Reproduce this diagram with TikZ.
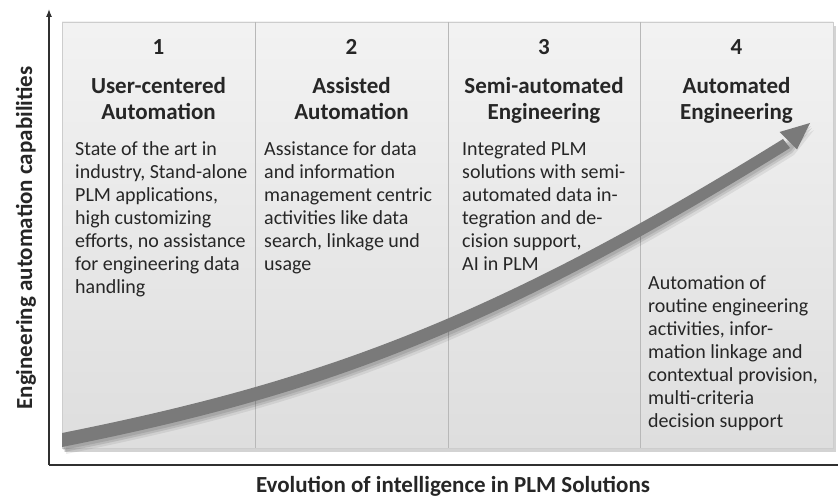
\documentclass[tikz,border=0pt]{standalone}
\usepackage{fontspec}
\setmainfont{Carlito}
\usetikzlibrary{shadows,arrows.meta}
\definecolor{txt}{HTML}{262626}
\definecolor{curvegray}{HTML}{7A7A7A}
\definecolor{divgray}{HTML}{B8B8B8}
\definecolor{axisgray}{HTML}{303030}
\begin{document}
\begin{tikzpicture}[x=1pt,y=-1pt,
  numlbl/.style={font=\bfseries\fontsize{23}{26}\selectfont, text=txt, anchor=base, inner sep=0},
  ttl/.style={font=\bfseries\fontsize{23}{26}\selectfont, text=txt, anchor=north, align=center, inner sep=0},
  body/.style={font=\fontsize{20}{23}\selectfont, text=txt, anchor=north west, align=left, inner sep=0},
  axislbl/.style={font=\bfseries\fontsize{23}{26}\selectfont, text=txt, anchor=base, inner sep=0},
  axisline/.style={draw=axisgray, line width=1.2pt}
]
\useasboundingbox (0,0) rectangle (840,497);
% panel
\path[draw=divgray!70, line width=0.8pt, top color=gray!10, bottom color=gray!26,
  drop shadow={shadow xshift=3pt, shadow yshift=-4pt, opacity=0.35, fill=gray}]
  (62,22) rectangle (833,448);
\foreach \xx in {255,448,640}
  \draw[divgray, line width=0.8pt] (\xx,22) -- (\xx,448);
% axes
\coordinate (origin) at (49,465);
\coordinate (ytip) at (49,9);
\coordinate (xend) at (838,465);
\draw[axisline] (origin) -- (xend);
\draw[axisline, -{Latex[length=8pt,width=6pt]}] (origin) -- (ytip);
% curve shadow
\foreach \dx/\dy/\op in {1/3/0.10, 2/5/0.10, 4/7/0.07} {
\fill[black, opacity=\op, shift={(\dx,\dy)}]
  (62,433) .. controls (312,383) and (486,323) .. (783,139)
  -- (810,123) -- (790,148)
  .. controls (486,337) and (312,397) .. (62,447) -- cycle;
}
% curve
\fill[curvegray]
  (62,433) .. controls (312,383) and (486,323) .. (783,139)
  -- (790,148)
  .. controls (486,337) and (312,397) .. (62,447) -- cycle;
\coordinate (headtip) at (810,123);
\coordinate (barbA) at (779.5,132);
\coordinate (barbB) at (797,149.5);
\fill[curvegray] (barbA) -- (headtip) -- (barbB) -- cycle;
% column headers
\node[numlbl] (n1) at (158.5,55) {1};
\node[numlbl] (n2) at (351.5,55) {2};
\node[numlbl] (n3) at (544,55) {3};
\node[numlbl] (n4) at (736.5,55) {4};
\node[ttl] (t1) at (158.5,74.8) {\strut User-centered\\Automation};
\node[ttl] (t2) at (351.5,74.8) {\strut Assisted\\Automation};
\node[ttl] (t3) at (544,74.8) {\strut Semi-automated\\Engineering};
\node[ttl] (t4) at (736.5,74.8) {\strut Automated\\Engineering};
% column bodies
\node[body] (b1) at (75,139) {\strut State of the art in\\industry, Stand-alone\\PLM applications,\\high customizing\\efforts, no assistance\\for engineering data\\handling};
\node[body] (b2) at (264,139) {\strut Assistance for data\\and information\\management centric\\activities like data\\search, linkage und\\usage};
\node[body] (b3) at (462,139) {\strut Integrated PLM\\solutions with semi-\\automated data in-\\tegration and de-\\cision support,\\AI in PLM};
\node[body] (b4) at (648,273) {\strut Automation of\\routine engineering\\activities, infor-\\mation linkage and\\contextual provision,\\multi-criteria\\decision support};
% axis labels
\node[axislbl] (xl) at (453,492) {Evolution of intelligence in PLM Solutions};
\node[axislbl, rotate=90] (yl) at (32,238) {Engineering automation capabilities};
\end{tikzpicture}
\end{document}
